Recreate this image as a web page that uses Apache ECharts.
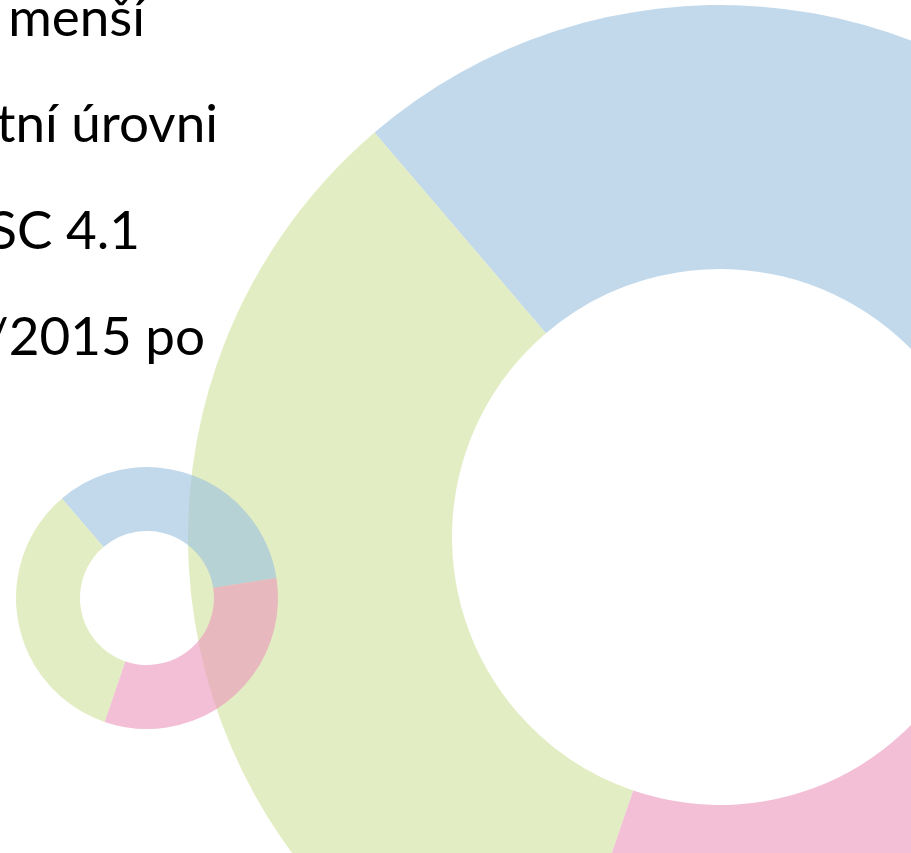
<!DOCTYPE html>
<html>
<head>
<meta charset="utf-8">
<script src="https://cdn.jsdelivr.net/npm/echarts@6/dist/echarts.min.js"></script>
<style>
  html, body { margin: 0; padding: 0; background: #ffffff; }
  #main { width: 911px; height: 853px; }
</style>
</head>
<body>
<div id="main"></div>
<script>
// podíly segmentů (stejná data pro oba prstence)
var segmentNames = ['modrá', 'růžová', 'zelená'];
var shareValues = [33.8, 32.7, 33.5];
var segmentColors = ['#99c0df', '#e994bb', '#d0e19b'];

// useknuté řádky textu vlevo nahoře
var textLines = ['menší', 'tní úrovni', 'SC 4.1', '/2015 po'];
var textRight = [145, 218, 140, 205];

function makeData () {
  return shareValues.map(function (v, i) {
    return { value: v, name: segmentNames[i], itemStyle: { color: segmentColors[i], opacity: 0.6 } };
  });
}

var myChart = echarts.init(document.getElementById('main'));

var texts = textLines.map(function (t, i) {
  return {
    type: 'text',
    x: textRight[i],
    y: 45 + i * 106.5,
    style: {
      text: t,
      fill: '#000000',
      font: '53px Lato',
      align: 'right',
      verticalAlign: 'bottom'
    }
  };
});

var option = {
  animation: false,
  backgroundColor: '#ffffff',
  graphic: texts,
  series: [
    {
      name: 'velký',
      type: 'pie',
      silent: true,
      center: [720, 537],
      radius: [268, 532],
      startAngle: 130.5,
      clockwise: true,
      label: { show: false },
      labelLine: { show: false },
      data: makeData()
    },
    {
      name: 'malý',
      type: 'pie',
      silent: true,
      center: [147, 598],
      radius: [67, 131],
      startAngle: 130.5,
      clockwise: true,
      label: { show: false },
      labelLine: { show: false },
      data: makeData()
    }
  ]
};

myChart.setOption(option);
</script>
</body>
</html>
